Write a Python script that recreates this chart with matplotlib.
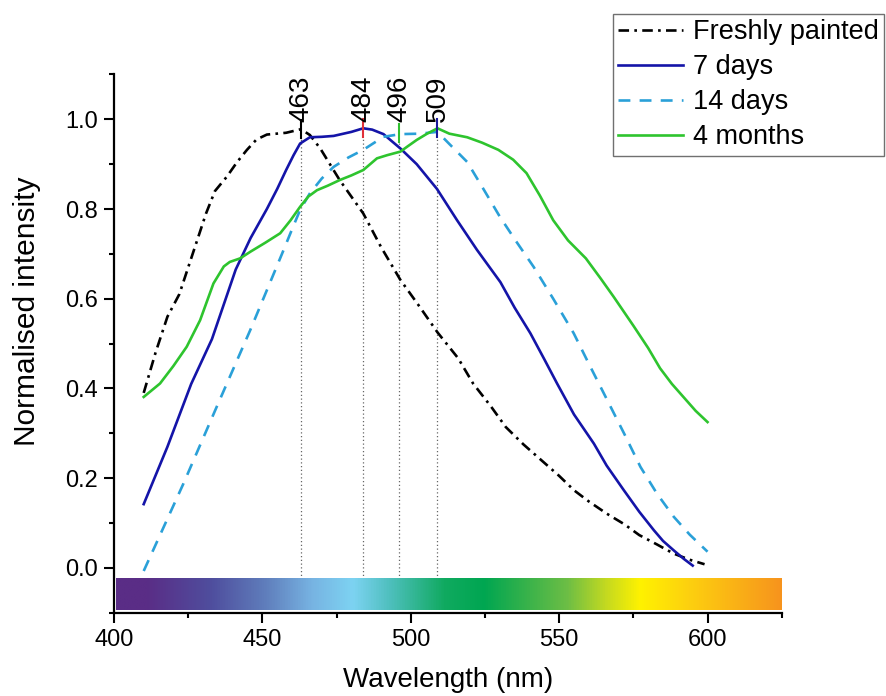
import numpy as np
import matplotlib
matplotlib.use('Agg')
import matplotlib.pyplot as plt
from matplotlib.colors import LinearSegmentedColormap

plt.rcParams['font.family'] = ['Liberation Sans', 'DejaVu Sans']

# emission spectra, normalised
wl_fresh = [410, 414, 418, 422, 427, 431, 434, 438, 441.5, 444.8, 448, 451.5, 458, 463, 466, 469.5, 476,
            484, 490, 496.5, 503, 509, 516, 521, 527, 532, 538, 544, 550, 555, 560, 566, 572, 577,
            583, 588.5, 594, 599]
int_fresh = [0.39, 0.48, 0.56, 0.61, 0.71, 0.79, 0.84, 0.872, 0.905, 0.932, 0.955, 0.966, 0.97, 0.978,
             0.965, 0.935, 0.865, 0.79, 0.715, 0.642, 0.582, 0.525, 0.467, 0.411, 0.36, 0.314, 0.275,
             0.24, 0.205, 0.173, 0.148, 0.121, 0.097, 0.073, 0.052, 0.032, 0.018, 0.008]

wl_7d = [410, 418, 426, 433, 441, 446, 451.5, 455, 458, 460.5, 462.7, 466, 470, 474, 480, 484, 487,
         490.8, 496.5, 502, 508.8, 515.6, 522.3, 530.2, 535, 540.3, 545, 549.3, 555, 561.7, 566,
         571.8, 577, 581.9, 585, 588.6, 592, 595]
int_7d = [0.142, 0.27, 0.41, 0.51, 0.665, 0.735, 0.80, 0.845, 0.887, 0.92, 0.946, 0.96, 0.961, 0.963,
          0.972, 0.98, 0.977, 0.967, 0.935, 0.90, 0.845, 0.775, 0.709, 0.637, 0.58, 0.523, 0.465, 0.411,
          0.342, 0.277, 0.228, 0.173, 0.125, 0.084, 0.06, 0.039, 0.02, 0.005]

wl_14d = [410, 423.4, 434.6, 445.9, 456.6, 460, 462.7, 466, 470, 474, 479, 484, 487.5, 490.8, 496.5,
          503, 509, 513, 519, 524, 530, 535.5, 541.4, 548, 554.9, 560, 566.2, 572, 577.4, 583,
          588.6, 594, 600]
int_14d = [-0.007, 0.188, 0.359, 0.53, 0.70, 0.755, 0.798, 0.835, 0.868, 0.894, 0.915, 0.932, 0.947,
           0.961, 0.967, 0.968, 0.972, 0.945, 0.905, 0.85, 0.783, 0.728, 0.671, 0.6, 0.523, 0.455, 0.374,
           0.298, 0.225, 0.165, 0.114, 0.074, 0.036]

wl_4m = [410, 415.5, 420, 424.5, 429, 433.5, 437, 439, 442.5, 446, 451, 456, 459.5, 462.7, 465.5,
         468.4, 472, 476.2, 480, 484, 488.6, 492, 496.5, 499, 502, 505.5, 509, 513, 519, 524, 529.5,
         534.5, 539, 543.5, 548, 553, 559, 564, 568.4, 575, 580, 584, 588, 592, 596, 600]
int_4m = [0.381, 0.411, 0.45, 0.493, 0.552, 0.634, 0.672, 0.682, 0.69, 0.705, 0.725, 0.746, 0.775,
          0.805, 0.828, 0.842, 0.852, 0.865, 0.875, 0.887, 0.913, 0.92, 0.928, 0.94, 0.954, 0.968, 0.98,
          0.968, 0.96, 0.948, 0.932, 0.91, 0.88, 0.83, 0.775, 0.73, 0.69, 0.645, 0.604, 0.54, 0.49,
          0.445, 0.41, 0.38, 0.35, 0.325]

# peak positions and their maxima
peak_wl = [463, 484, 496, 509]
peak_val = [0.978, 0.98, 0.97, 0.98]
peak_colors = ['black', '#e0303a', '#30c030', '#1a1a9a']

# visible spectrum strip
spec_wl = [400, 410, 432, 450, 466, 480, 492, 511, 524.5, 552.7, 566, 577.4, 594, 625]
spec_col = ['#5a2d86', '#5a2d86', '#4f4e9e', '#5f7dbb', '#77b3e2', '#7dd3f2', '#50c0c0', '#10aa60',
            '#00a651', '#6dbe45', '#c5da20', '#fff200', '#fdd00f', '#f7941d']

fig = plt.figure(figsize=(8.86, 6.96), dpi=100)
ax = fig.add_axes([0.1287, 0.1197, 0.7536, 0.7733])

l1, = ax.plot(wl_fresh, int_fresh, color='black', lw=1.9, dashes=[4, 2, 1, 2], label='Freshly painted')
l2, = ax.plot(wl_7d, int_7d, color='#1414a8', lw=1.9, label='7 days')
l3, = ax.plot(wl_14d, int_14d, color='#2aa0d8', lw=1.9, dashes=[4.5, 3.5], label='14 days')
l4, = ax.plot(wl_4m, int_4m, color='#2ec42e', lw=1.9, label='4 months')

# drop lines and peak labels
for w, v, c in zip(peak_wl, peak_val, peak_colors):
    ax.plot([w, w], [-0.1, v - 0.02], color='#666666', lw=0.9, ls=(0, (1, 2)), zorder=1)
    ax.plot([w, w], [v - 0.02, v + 0.02], color=c, lw=1.5, zorder=3)
    ax.text(w, 0.993, str(w), rotation=90, ha='center', va='bottom', fontsize=20)

# colour strip under the curves
cmap = LinearSegmentedColormap.from_list(
    'spec', [((w - 400) / 225, c) for w, c in zip(spec_wl, spec_col)])
grad = np.linspace(0, 1, 512).reshape(1, -1)
ax.imshow(grad, cmap=cmap, aspect='auto', extent=(400.6, 625, -0.094, -0.024),
          interpolation='bilinear', zorder=4)

ax.set_xlim(400, 625)
ax.set_ylim(-0.1, 1.1)
ax.set_xticks([400, 450, 500, 550, 600])
ax.set_xticks(np.arange(425, 626, 50), minor=True)
ax.set_yticks([0.0, 0.2, 0.4, 0.6, 0.8, 1.0])
ax.set_yticks([-0.1, 0.1, 0.3, 0.5, 0.7, 0.9, 1.1], minor=True)
ax.yaxis.set_major_formatter(plt.FormatStrFormatter('%.1f'))

for s in ['top', 'right']:
    ax.spines[s].set_visible(False)
for s in ['left', 'bottom']:
    ax.spines[s].set_linewidth(1.6)
ax.tick_params(which='major', direction='out', length=7.5, width=1.5, labelsize=17, pad=4)
ax.tick_params(which='minor', direction='out', length=3.5, width=1.5)

ax.set_xlabel('Wavelength (nm)', fontsize=20, labelpad=12)
ax.set_ylabel('Normalised intensity', fontsize=21.5)
ax.yaxis.set_label_coords(-0.11, 0.56)

leg = ax.legend(handles=[l1, l2, l3, l4], loc='upper right', bbox_to_anchor=(0.998, 0.98),
                bbox_transform=fig.transFigure, borderaxespad=0, fontsize=19.5,
                handlelength=2.4, handletextpad=0.35, labelspacing=0.33, borderpad=0.2,
                fancybox=False, framealpha=1, edgecolor='#707070')
leg.get_frame().set_linewidth(1.0)

fig.savefig('out.png', dpi=100)
